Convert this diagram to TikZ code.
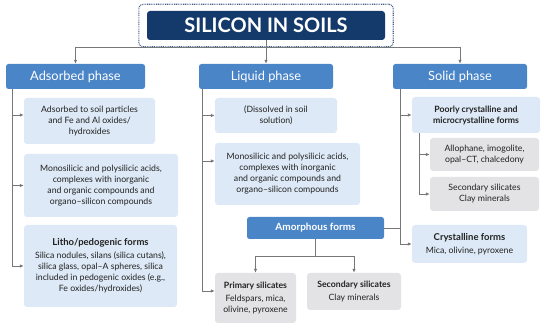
\documentclass[tikz,border=0pt]{standalone}
\usepackage{fontspec}
\setmainfont{Lato}
\usetikzlibrary{arrows.meta,fit,calc}
\definecolor{navy}{HTML}{143A6B}
\definecolor{phaseblue}{HTML}{4A85C7}
\definecolor{paleblue}{HTML}{DDE9F6}
\definecolor{palegrey}{HTML}{E3E3E5}
\definecolor{linegrey}{HTML}{777777}
\definecolor{ink}{HTML}{222222}
\begin{document}
\begin{tikzpicture}[
    x=1pt, y=1pt,
    font=\fontsize{8.7}{11}\selectfont, text=ink,
    headbox/.style={fill=navy, rounded corners=3pt, text=white, minimum width=238, minimum height=29,
      font=\fontsize{20}{22}\selectfont\bfseries},
    frame/.style={draw=navy!80, dash pattern=on 0.9pt off 0.9pt, line width=1.1pt, rounded corners=4pt,
      inner xsep=8pt, inner ysep=6.5pt},
    phasebox/.style={fill=phaseblue, rounded corners=2.5pt, text=white, minimum width=134, minimum height=25,
      font=\fontsize{12.8}{14}\selectfont},
    infobox/.style={fill=paleblue, rounded corners=3pt, align=center, inner sep=2pt},
    greybox/.style={fill=palegrey, rounded corners=3pt, align=center, inner sep=2pt},
    link/.style={draw=linegrey, line width=0.8pt},
    arrowline/.style={link, -{Latex[length=4pt,width=3.5pt]}}
  ]
  \useasboundingbox (0,0) rectangle (550,332);

  % title and phases
  \node[headbox] (title) at (266,306.5) {SILICON IN SOILS};
  \node[frame, fit=(title)] (titleframe) {};
  \node[phasebox, minimum width=139] (ads) at (75.5,255.5) {Adsorbed phase};
  \node[phasebox] (liq) at (266,255.5) {Liquid phase};
  \node[phasebox] (sol) at (460,255.5) {Solid phase};

  \coordinate (bus) at (266,285);
  \draw[link] (title.south) -- (bus);
  \draw[arrowline] (bus) -| (ads.north);
  \draw[arrowline] (bus) -- (liq.north);
  \draw[arrowline] (bus) -| (sol.north);

  % adsorbed phase
  \node[infobox, minimum width=131, minimum height=46] (a1) at (89.5,211)
    {Adsorbed to soil particles\\and Fe and Al oxides/\\hydroxides};
  \node[infobox, minimum width=154, minimum height=63] (a2) at (101,146.5)
    {Monosilicic and polysilicic acids,\\complexes with inorganic\\and organic compounds and\\organo–silicon compounds};
  \node[infobox, minimum width=153, minimum height=82] (a3) at (100.5,66)
    {{\fontsize{9.5}{12}\selectfont\bfseries Litho/pedogenic forms}\\[2pt]Silica nodules, silans (silica cutans),\\silica glass, opal–A spheres, silica\\included in pedogenic oxides (e.g.,\\Fe oxides/hydroxides)};

  \coordinate (adsrail) at ($(ads.south west)+(7,0)$);
  \coordinate (a1in) at ([yshift=6pt]a1.west);
  \draw[arrowline] (adsrail) |- (a3.west);
  \draw[arrowline] (adsrail |- a1in) -- (a1in);
  \draw[arrowline] (adsrail |- a2.west) -- (a2.west);

  % liquid phase
  \node[infobox, minimum width=122, minimum height=35] (l1) at (276,216.5)
    {(Dissolved in soil\\solution)};
  \node[infobox, minimum width=145, minimum height=62] (l2) at (287.5,158)
    {Monosilicic and polysilicic acids,\\complexes with inorganic\\and organic compounds and\\organo–silicon compounds};
  \node[phasebox, minimum width=137, minimum height=22, font=\fontsize{10}{12}\selectfont\bfseries] (amo) at (315.5,104)
    {Amorphous forms};
  \node[greybox, minimum width=81, minimum height=50] (prim) at (255.5,34)
    {\textbf{Primary silicates}\\[2pt]Feldspars, mica,\\olivine, pyroxene};
  \node[greybox, minimum width=94, minimum height=37] (sec) at (354,40.5)
    {\textbf{Secondary silicates}\\[2pt]Clay minerals};

  \coordinate (liqrail) at ($(liq.south west)+(4,0)$);
  \coordinate (l2in) at ([yshift=13pt]l2.west);
  \coordinate (primin) at ([yshift=7pt]prim.west);
  \draw[arrowline] (liqrail) |- (primin);
  \draw[arrowline] (liqrail |- l1.west) -- (l1.west);
  \draw[arrowline] (liqrail |- l2in) -- (l2in);

  \draw[link] (amo.south) -- ++(0,-17) coordinate (amobus);
  \draw[arrowline] (amobus) -| (prim.north);
  \draw[arrowline] (amobus) -| (sec.north);

  % solid phase
  \node[infobox, minimum width=128, minimum height=36] (poor) at (476,217)
    {\bfseries Poorly crystalline and\\\bfseries microcrystalline forms};
  \node[greybox, minimum width=109, minimum height=33] (g1) at (484.5,177.5)
    {Allophane, imogolite,\\opal–CT, chalcedony};
  \node[greybox, minimum width=109, minimum height=34] (g2) at (484.5,138)
    {Secondary silicates\\Clay minerals};
  \node[infobox, minimum width=115, minimum height=38] (cry) at (469.5,88)
    {{\fontsize{9.5}{12}\selectfont\bfseries Crystalline forms}\\[2pt]Mica, olivine, pyroxene};

  \coordinate (solrail) at ($(sol.south west)+(8,0)$);
  \draw[arrowline] (solrail) |- (cry.west);
  \draw[arrowline] (solrail |- poor.west) -- (poor.west);
  \draw[link] (amo.east) -- (amo.east -| solrail);

  \coordinate (poorrail) at ($(poor.south west)+(8,0)$);
  \draw[arrowline] (poorrail) |- (g2.west);
  \draw[arrowline] (poorrail |- g1.west) -- (g1.west);
\end{tikzpicture}
\end{document}
